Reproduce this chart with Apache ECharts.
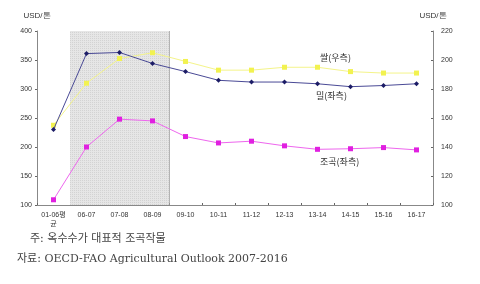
<!DOCTYPE html>
<html>
<head>
<meta charset="utf-8">
<script src="https://cdn.jsdelivr.net/npm/echarts@6/dist/echarts.min.js"></script>
<style>
  html, body { margin: 0; padding: 0; background: #fff; }
  #chart { width: 480px; height: 284px; }
</style>
</head>
<body>
<div id="chart"></div>
<script>
// 연도 구분
var categories = ['01-06평\n균', '06-07', '07-08', '08-09', '09-10', '10-11', '11-12', '12-13', '13-14', '14-15', '15-16', '16-17'];
// 밀(좌측), USD/톤
var wheat = [230, 361, 363, 344, 330, 315, 312, 312, 309, 304, 306, 309];
// 쌀(우측), USD/톤
var rice = [155, 184, 201, 205, 199, 193, 193, 195, 195, 192, 191, 191];
// 조곡(좌측), USD/톤
var coarse = [109, 200, 248, 245, 218, 207, 210, 202, 196, 197, 199, 195];
// 음영 구간 (06-07 ~ 08-09)
var shade = [null, 400, 400, 400, null, null, null, null, null, null, null, null];
var leftTicks = [100, 400, 50];
var rightTicks = [100, 220, 20];

var chart = echarts.init(document.getElementById('chart'), null, { renderer: 'canvas' });

var axisText = { color: '#333', fontSize: 7, fontFamily: 'Arial, "Noto Sans CJK KR"' };
var noteFont = '11px "DejaVu Serif", "Noto Sans CJK KR"';
var labelFont = '9px "Noto Sans CJK KR"';

var option = {
  backgroundColor: '#fff',
  animation: false,
  grid: { left: 37, right: 47, top: 31, bottom: 79 },
  xAxis: {
    type: 'category',
    data: categories,
    boundaryGap: true,
    axisLine: { lineStyle: { color: '#888', width: 1 } },
    axisTick: { show: true, inside: true, length: 2, lineStyle: { color: '#666' } },
    axisLabel: Object.assign({ margin: 6, interval: 0, lineHeight: 9 }, axisText)
  },
  yAxis: [{
    type: 'value',
    min: leftTicks[0], max: leftTicks[1], interval: leftTicks[2],
    name: 'USD/톤',
    nameGap: 11,
    nameTextStyle: { color: '#333', fontSize: 8, align: 'center' },
    axisLine: { show: true, lineStyle: { color: '#888' } },
    axisTick: { show: true, length: 2, lineStyle: { color: '#666' } },
    splitLine: { show: false },
    axisLabel: Object.assign({ margin: 5 }, axisText)
  }, {
    type: 'value',
    min: rightTicks[0], max: rightTicks[1], interval: rightTicks[2],
    name: 'USD/톤',
    nameGap: 11,
    nameTextStyle: { color: '#333', fontSize: 8, align: 'center' },
    axisLine: { show: true, lineStyle: { color: '#888' } },
    axisTick: { show: true, inside: true, length: 2, lineStyle: { color: '#666' } },
    splitLine: { show: false },
    axisLabel: Object.assign({ margin: 8 }, axisText)
  }],
  series: [{
    name: 'shade',
    type: 'bar',
    data: shade,
    barWidth: '100%',
    barCategoryGap: '0%',
    silent: true,
    z: 1,
    itemStyle: {
      color: '#e6e6e6',
      borderWidth: 0,
      decal: {
        symbol: 'rect',
        symbolSize: 1,
        dashArrayX: [1, 1],
        dashArrayY: [1, 1],
        color: 'rgba(195,195,195,0.55)'
      }
    }
  }, {
    name: '쌀(우측)',
    type: 'line',
    yAxisIndex: 1,
    data: rice,
    symbol: 'rect',
    symbolSize: 5,
    z: 3,
    lineStyle: { color: '#f4f48a', width: 1 },
    itemStyle: { color: '#f2f250' }
  }, {
    name: '밀(좌측)',
    type: 'line',
    data: wheat,
    symbol: 'diamond',
    symbolSize: 5,
    z: 4,
    lineStyle: { color: '#4a4a96', width: 1 },
    itemStyle: { color: '#1c1c66' }
  }, {
    name: '조곡(좌측)',
    type: 'line',
    data: coarse,
    symbol: 'rect',
    symbolSize: 5,
    z: 4,
    lineStyle: { color: '#ee66ee', width: 1 },
    itemStyle: { color: '#e020e0' }
  }],
  graphic: [
    { type: 'rect', left: 169, top: 31, shape: { width: 0.8, height: 174 }, style: { fill: '#a0a0a0' }, silent: true, z: 2 },
    { type: 'text', left: 320, top: 53, style: { text: '쌀(우측)', fill: '#333', font: labelFont } },
    { type: 'text', left: 316, top: 91, style: { text: '밀(좌측)', fill: '#333', font: labelFont } },
    { type: 'text', left: 320, top: 157, style: { text: '조곡(좌측)', fill: '#333', font: labelFont } },
    { type: 'text', left: 30, top: 234, style: { text: '주: 옥수수가 대표적 조곡작물', fill: '#444', font: noteFont } },
    { type: 'text', left: 17, top: 254, style: { text: '자료: OECD-FAO Agricultural Outlook 2007-2016', fill: '#444', font: noteFont } }
  ]
};

chart.setOption(option);
</script>
</body>
</html>
